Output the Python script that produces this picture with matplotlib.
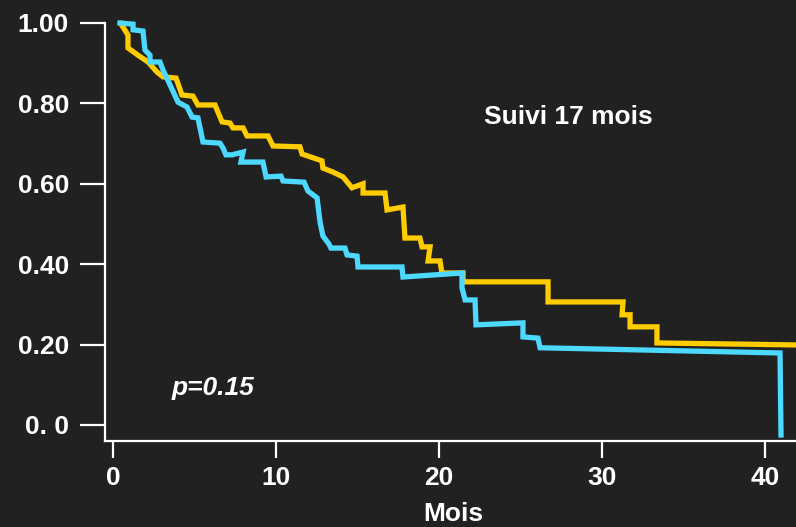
import matplotlib
matplotlib.use("Agg")
import matplotlib.pyplot as plt

plt.rcParams['font.family'] = ['Liberation Sans', 'DejaVu Sans']

# Survival curves (months, survival probability)
blue_x = [0.43, 1.23, 1.23, 1.84, 1.96, 2.27, 2.27, 2.88, 3.07, 3.50, 3.99, 4.54, 4.85, 5.21,
          5.52, 6.56, 6.75, 6.93, 7.30, 7.98, 7.85, 9.20, 9.39, 10.31, 10.43, 11.72, 11.96,
          12.52, 12.70, 12.88, 13.25, 13.37, 14.23, 14.36, 14.97, 15.03, 17.73, 17.79, 21.41,
          21.41, 21.60, 22.21, 22.27, 25.15, 25.15, 26.07, 26.20, 40.92, 40.98]
blue_y = [1.000, 0.997, 0.983, 0.980, 0.933, 0.920, 0.903, 0.903, 0.883, 0.846, 0.803, 0.791,
          0.766, 0.764, 0.704, 0.701, 0.689, 0.672, 0.672, 0.679, 0.654, 0.654, 0.617, 0.619,
          0.607, 0.604, 0.582, 0.565, 0.505, 0.470, 0.450, 0.440, 0.440, 0.423, 0.420, 0.393,
          0.393, 0.368, 0.378, 0.341, 0.311, 0.311, 0.249, 0.254, 0.219, 0.216, 0.192, 0.179,
          -0.025]

yellow_x = [0.49, 0.92, 0.92, 1.53, 2.15, 2.70, 3.07, 3.87, 4.23, 4.91, 5.21, 6.26, 6.69, 7.18,
            7.36, 7.98, 8.22, 9.51, 9.82, 11.47, 11.60, 12.82, 12.88, 13.50, 14.11, 14.42,
            14.66, 15.34, 15.34, 16.69, 16.81, 17.79, 17.91, 18.83, 18.96, 19.45, 19.33, 20.06,
            20.18, 21.47, 21.47, 26.69, 26.69, 31.29, 31.23, 31.72, 31.72, 33.37, 33.37, 41.90]
yellow_y = [0.998, 0.970, 0.938, 0.920, 0.903, 0.878, 0.866, 0.863, 0.821, 0.818, 0.796, 0.796,
            0.754, 0.751, 0.739, 0.739, 0.719, 0.719, 0.694, 0.692, 0.674, 0.657, 0.639, 0.629,
            0.617, 0.602, 0.590, 0.600, 0.577, 0.577, 0.535, 0.542, 0.465, 0.465, 0.443, 0.443,
            0.408, 0.408, 0.378, 0.378, 0.356, 0.356, 0.306, 0.306, 0.274, 0.274, 0.244, 0.244,
            0.204, 0.199]

x_ticks = [0, 10, 20, 30, 40]
x_tick_labels = ["0", "10", "20", "30", "40"]
y_ticks = [0.0, 0.2, 0.4, 0.6, 0.8, 1.0]
y_tick_labels = ["0. 0", "0.20", "0.40", "0.60", "0.80", "1.00"]

BG = '#212121'
FG = '#ffffff'
FS = 19

fig = plt.figure(figsize=(7.96, 5.27), dpi=100, facecolor=BG)
ax = fig.add_axes([105/796, 1 - 441/527, 1 - 105/796, (441 - 23)/527])
ax.set_facecolor(BG)

ax.plot(yellow_x, yellow_y, color='#ffcc00', lw=3.8, solid_joinstyle='miter', clip_on=False, zorder=3)
ax.plot(blue_x, blue_y, color='#4dd8ff', lw=3.8, solid_joinstyle='miter', clip_on=False, zorder=4)

ax.set_xlim(-0.49, 41.9)
ax.set_ylim(-0.04, 1.0)

ax.set_xticks(x_ticks)
ax.set_xticklabels(x_tick_labels)
ax.set_yticks(y_ticks)
ax.set_yticklabels(y_tick_labels)

for s in ['top', 'right']:
    ax.spines[s].set_visible(False)
for s in ['left', 'bottom']:
    ax.spines[s].set_color(FG)
    ax.spines[s].set_linewidth(1.6)

ax.tick_params(axis='x', colors=FG, length=12, width=1.6, pad=6, labelsize=FS)
ax.tick_params(axis='y', colors=FG, length=18, width=1.6, pad=8, labelsize=FS)
for lab in ax.get_xticklabels() + ax.get_yticklabels():
    lab.set_fontweight('bold')
    lab.set_color(FG)

fig.text(568/796, 1 - 117/527, "Suivi 17 mois", color=FG, fontsize=FS, fontweight='bold',
         ha='center', va='center')
fig.text(213/796, 1 - 388/527, "p=0.15", color=FG, fontsize=FS, fontweight='bold',
         fontstyle='italic', ha='center', va='center')
fig.text(453/796, 0.001, "Mois", color=FG, fontsize=FS, fontweight='bold',
         ha='center', va='bottom')

fig.savefig("out.png", dpi=100, facecolor=BG)
